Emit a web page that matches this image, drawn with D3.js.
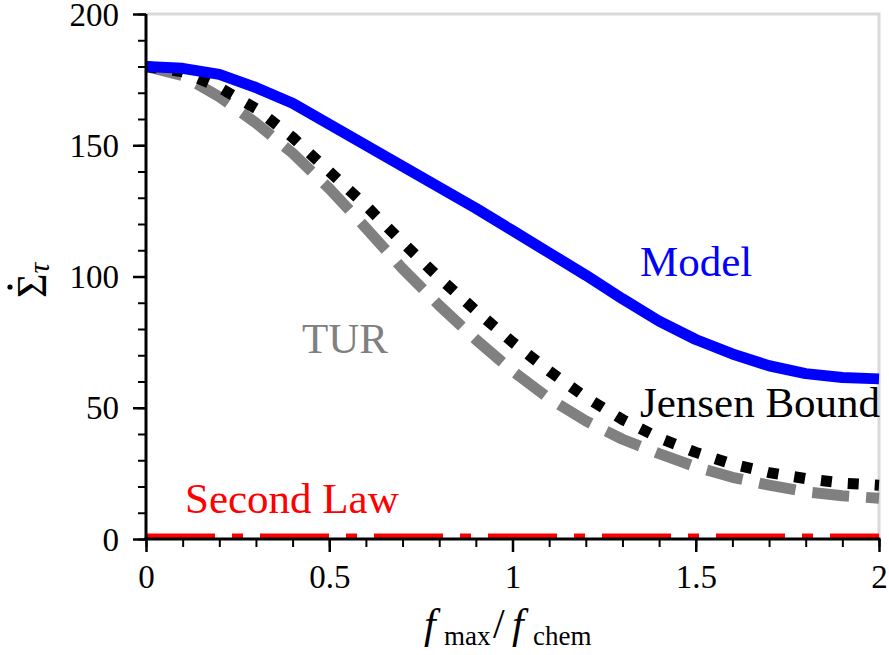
<!DOCTYPE html>
<html>
<head>
<meta charset="utf-8">
<script src="https://cdn.jsdelivr.net/npm/d3@7"></script>
<style>
  body { margin: 0; background: #fff; }
  text { font-family: "Liberation Serif", "DejaVu Serif", serif; }
</style>
</head>
<body>
<div id="chart"></div>
<script>
const width = 889;
const height = 655;

// f_max / f_chem sample points
const fRatio = [0, 0.1, 0.2, 0.3, 0.4, 0.5, 0.6, 0.7, 0.8, 0.9, 1.0,
  1.1, 1.2, 1.3, 1.4, 1.5, 1.6, 1.7, 1.8, 1.9, 2.0];

const model = [180, 179.3, 177, 172, 166, 158, 150, 142, 134, 126, 117.5,
  109, 100.5, 91.5, 83, 76, 70.5, 66, 63, 61.5, 61];
const jensen = [180, 178, 172, 164, 153, 140, 127, 113, 99.5, 87, 75,
  64, 54, 45.5, 38.5, 33, 28.5, 25.3, 23, 21.3, 20.5];
const tur = [180, 176.5, 168.5, 158.5, 147, 133.5, 118.5, 103, 89, 76, 64,
  53.5, 45, 38, 32.5, 27.5, 23.5, 20.5, 18, 16.5, 15.5];
const secondLaw = fRatio.map(() => 1);

const xTicks = [0, 0.5, 1, 1.5, 2];
const xTickLabels = ["0", "0.5", "1", "1.5", "2"];
const yTicks = [0, 50, 100, 150, 200];

const x = d3.scaleLinear().domain([0, 2]).range([146, 879]);
const y = d3.scaleLinear().domain([0, 200]).range([539, 14]);

const svg = d3.select("#chart")
  .append("svg")
  .attr("width", width)
  .attr("height", height);

// light frame on top and right
svg.append("path")
  .attr("d", `M${x(0)},${y(200)}H${x(2)}V${y(0)}`)
  .attr("fill", "none")
  .attr("stroke", "#d9d9d9")
  .attr("stroke-width", 3);

const line = (vals) => d3.line()
  .x((d, i) => x(fRatio[i]))
  .y(d => y(d))(vals);

const series = [
  { vals: secondLaw, color: "#ff0000", width: 6, dash: "69,17,11,17" },
  { vals: tur, color: "#808080", width: 11, dash: "37,17" },
  { vals: jensen, color: "#000000", width: 11, dash: "11,16" },
  { vals: model, color: "#0000ff", width: 11, dash: null }
];

series.forEach(s => {
  svg.append("path")
    .attr("d", line(s.vals))
    .attr("fill", "none")
    .attr("stroke", s.color)
    .attr("stroke-width", s.width)
    .attr("stroke-dasharray", s.dash)
    .attr("stroke-linejoin", "round")
    .attr("stroke-linecap", "butt");
});

// axes: minor then major ticks
const xMinor = svg.append("g")
  .attr("transform", `translate(0,${y(0)})`)
  .call(d3.axisBottom(x).tickValues(d3.range(0, 2.01, 0.1)).tickSize(8).tickFormat(""));
const xMajor = svg.append("g")
  .attr("transform", `translate(0,${y(0)})`)
  .call(d3.axisBottom(x).tickValues(xTicks).tickSize(13).tickPadding(13)
    .tickFormat((d, i) => xTickLabels[i]));
const yMinor = svg.append("g")
  .attr("transform", `translate(${x(0)},0)`)
  .call(d3.axisLeft(y).tickValues(d3.range(0, 201, 10)).tickSize(8).tickFormat(""));
const yMajor = svg.append("g")
  .attr("transform", `translate(${x(0)},0)`)
  .call(d3.axisLeft(y).tickValues(yTicks).tickSize(13).tickPadding(14));

[xMinor, yMinor].forEach(g => {
  g.select(".domain").remove();
  g.selectAll(".tick line").attr("stroke", "#000").attr("stroke-width", 2);
});
[xMajor, yMajor].forEach(g => {
  g.select(".domain").attr("stroke", "#000").attr("stroke-width", 3)
    .attr("d", g === xMajor ? `M${x(0) - 1.5},0H${x(2) + 1.5}` : `M0,${y(0) + 1.5}V${y(200)}`);
  g.selectAll(".tick line").attr("stroke", "#000").attr("stroke-width", 2.5);
  g.selectAll(".tick text")
    .attr("font-family", "Liberation Serif")
    .attr("font-size", 33)
    .attr("fill", "#000");
});
yMajor.selectAll(".tick text").attr("dy", "0.34em");

// series labels
const labels = [
  { text: "Model", x: 640, y: 276, color: "#0000ff" },
  { text: "TUR", x: 302, y: 353, color: "#808080" },
  { text: "Jensen Bound", x: 640, y: 417, color: "#000000" },
  { text: "Second Law", x: 185, y: 513, color: "#ff0000" }
];
svg.selectAll(".series-label")
  .data(labels)
  .enter()
  .append("text")
  .attr("class", "series-label")
  .attr("x", d => d.x)
  .attr("y", d => d.y)
  .attr("fill", d => d.color)
  .attr("font-size", 43)
  .text(d => d.text);

// x axis label
const xl = svg.append("text")
  .attr("y", 638)
  .attr("font-size", 42)
  .attr("fill", "#000");
xl.append("tspan").attr("x", 424).attr("font-style", "italic").text("f");
xl.append("tspan").attr("x", 444).attr("y", 645).attr("font-size", 27).text("max");
xl.append("tspan").attr("x", 493).attr("y", 638).text("/");
xl.append("tspan").attr("x", 512).attr("font-style", "italic").text("f");
xl.append("tspan").attr("x", 533).attr("y", 645).attr("font-size", 27).text("chem");

// y axis label (rotated), time-derivative dot drawn above the sigma
const yg = svg.append("g")
  .attr("transform", "translate(46,298) rotate(-90)");
yg.append("text")
  .attr("font-size", 42)
  .attr("fill", "#000")
  .call(t => {
    t.append("tspan").text("\u03A3");
    t.append("tspan").attr("dy", 3).attr("font-size", 30).attr("font-style", "italic").text("\u03C4");
  });
yg.append("circle")
  .attr("cx", 11)
  .attr("cy", -36)
  .attr("r", 2.6)
  .attr("fill", "#000");
</script>
</body>
</html>
